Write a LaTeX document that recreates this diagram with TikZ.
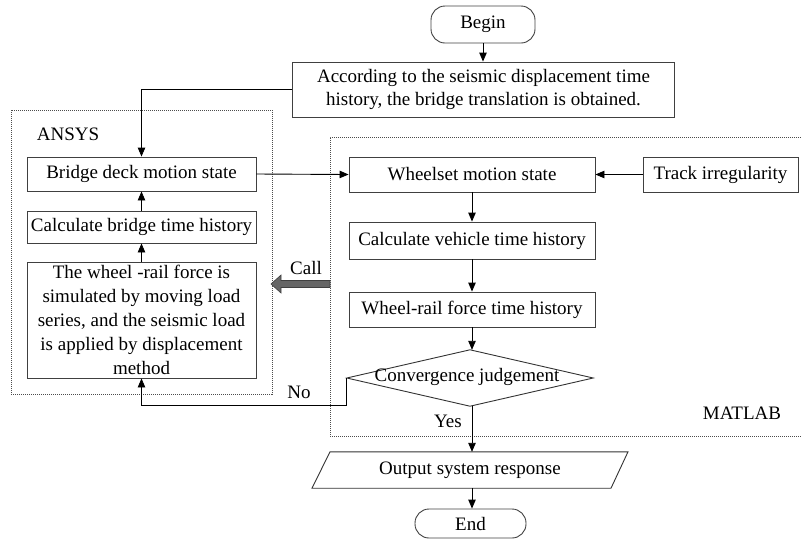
\documentclass[tikz,border=0pt]{standalone}
\usepackage{fontspec}
\setmainfont{Liberation Serif}
\usetikzlibrary{arrows.meta}
\begin{document}
\begin{tikzpicture}[x=1pt,y=-1pt,
  txt/.style={font=\fontsize{19}{23}\selectfont, text=black, inner sep=0pt},
  box/.style={txt, draw=black!75, line width=0.9pt, align=center, inner sep=0pt},
  term/.style={box, rounded corners=14pt},
  ghost/.style={txt, align=center},
  arr/.style={-{Triangle[length=9pt,width=7.5pt]}, line width=0.9pt, draw=black},
  line/.style={line width=0.9pt, draw=black},
  region/.style={draw=black!70, line width=0.7pt, dash pattern=on 1pt off 1pt}
]
\useasboundingbox (0,0) rectangle (801,539);

% dotted regions
\draw[region] (11,110) rectangle (272,394);
\draw[region] (801,137) -- (330,137) -- (330,436) -- (801,436);
\node[txt] (ansys) at (68,134) {ANSYS};
\node[txt] (matlab) at (742,413) {MATLAB};

% nodes
\node[term, minimum width=104pt, minimum height=37pt] (begin) at (483,24.5) {Begin};
\node[box, minimum width=382pt, minimum height=55pt] (accord) at (483.5,89.5)
  {According to the seismic displacement time\\ history, the bridge translation is obtained.};
\node[box, minimum width=229pt, minimum height=34pt] (bridge) at (141.5,174) {Bridge deck motion state};
\node[box, minimum width=229pt, minimum height=32pt] (calcb) at (141.5,227) {Calculate bridge time history};
\node[box, minimum width=229pt, minimum height=116pt, font=\fontsize{19}{24}\selectfont] (wrf) at (141.5,320)
  {The wheel -rail force is\\ simulated by moving load\\ series, and the seismic load\\ is applied by displacement\\ method};
\node[box, minimum width=246pt, minimum height=35pt] (wheelset) at (472,174.5) {Wheelset motion state};
\node[box, minimum width=155pt, minimum height=35pt] (track) at (720.5,174.5) {Track irregularity};
\node[box, minimum width=246pt, minimum height=37pt] (calcv) at (472,240.5) {Calculate vehicle time history};
\node[box, minimum width=246pt, minimum height=35pt] (wrft) at (472,309.5) {Wheel-rail force time history};

% decision diamond
\node[ghost, minimum width=246pt, minimum height=56pt] (judge) at (470,378) {};
\draw[line, draw=black!80] (judge.west) -- (judge.north) -- (judge.east) -- (judge.south) -- cycle;
\node[txt] (judgetext) at (467,377) {Convergence judgement};

% output parallelogram
\node[ghost, minimum width=290pt, minimum height=36pt] (out) at (470,470) {Output system response};
\draw[line, draw=black!80] ([xshift=-158pt]out.south) -- ([xshift=-140pt]out.north)
  -- ([xshift=158pt]out.north) -- ([xshift=141pt]out.south) -- cycle;

\node[term, minimum width=111pt, minimum height=29pt] (end) at (470.5,523.5) {End};

% connectors
\draw[arr] (begin.south) -- (accord.north -| begin.south);
\draw[arr] (accord.west) -| (bridge.north);
\draw[arr] (calcb.north) -- (bridge.south);
\draw[arr] (wrf.north) -- (calcb.south);
\draw[arr] (bridge.east) -- (wheelset.west);
\draw[arr] (track.west) -- (wheelset.east);
\draw[arr] (wheelset.south) -- (calcv.north);
\draw[arr] (calcv.south) -- (wrft.north);
\draw[arr] (wrft.south) -- (wrft.south |- judge.north);
\coordinate (nocorner) at (judge.west |- 0,405);
\draw[arr] (judge.west) -- (nocorner) -| (wrf.south);
\draw[arr] (wrft.south |- judge.south) -- (wrft.south |- out.north);
\draw[arr] (wrft.south |- out.south) -- (wrft.south |- end.north);

% labels
\node[txt] (no) at (299,392) {No};
\node[txt] (yes) at (448,421) {Yes};
\node[txt] (call) at (306,268) {Call};

% Call block arrow
\coordinate (callfrom) at (330,284);
\coordinate (callto) at (271,284);
\draw[fill=black!60, draw=black!75, line width=0.6pt]
  (330,280.5) -- (281,280.5) -- (281,275) -- (callto) -- (281,293) -- (281,287.5) -- (330,287.5) -- cycle;
\end{tikzpicture}
\end{document}
